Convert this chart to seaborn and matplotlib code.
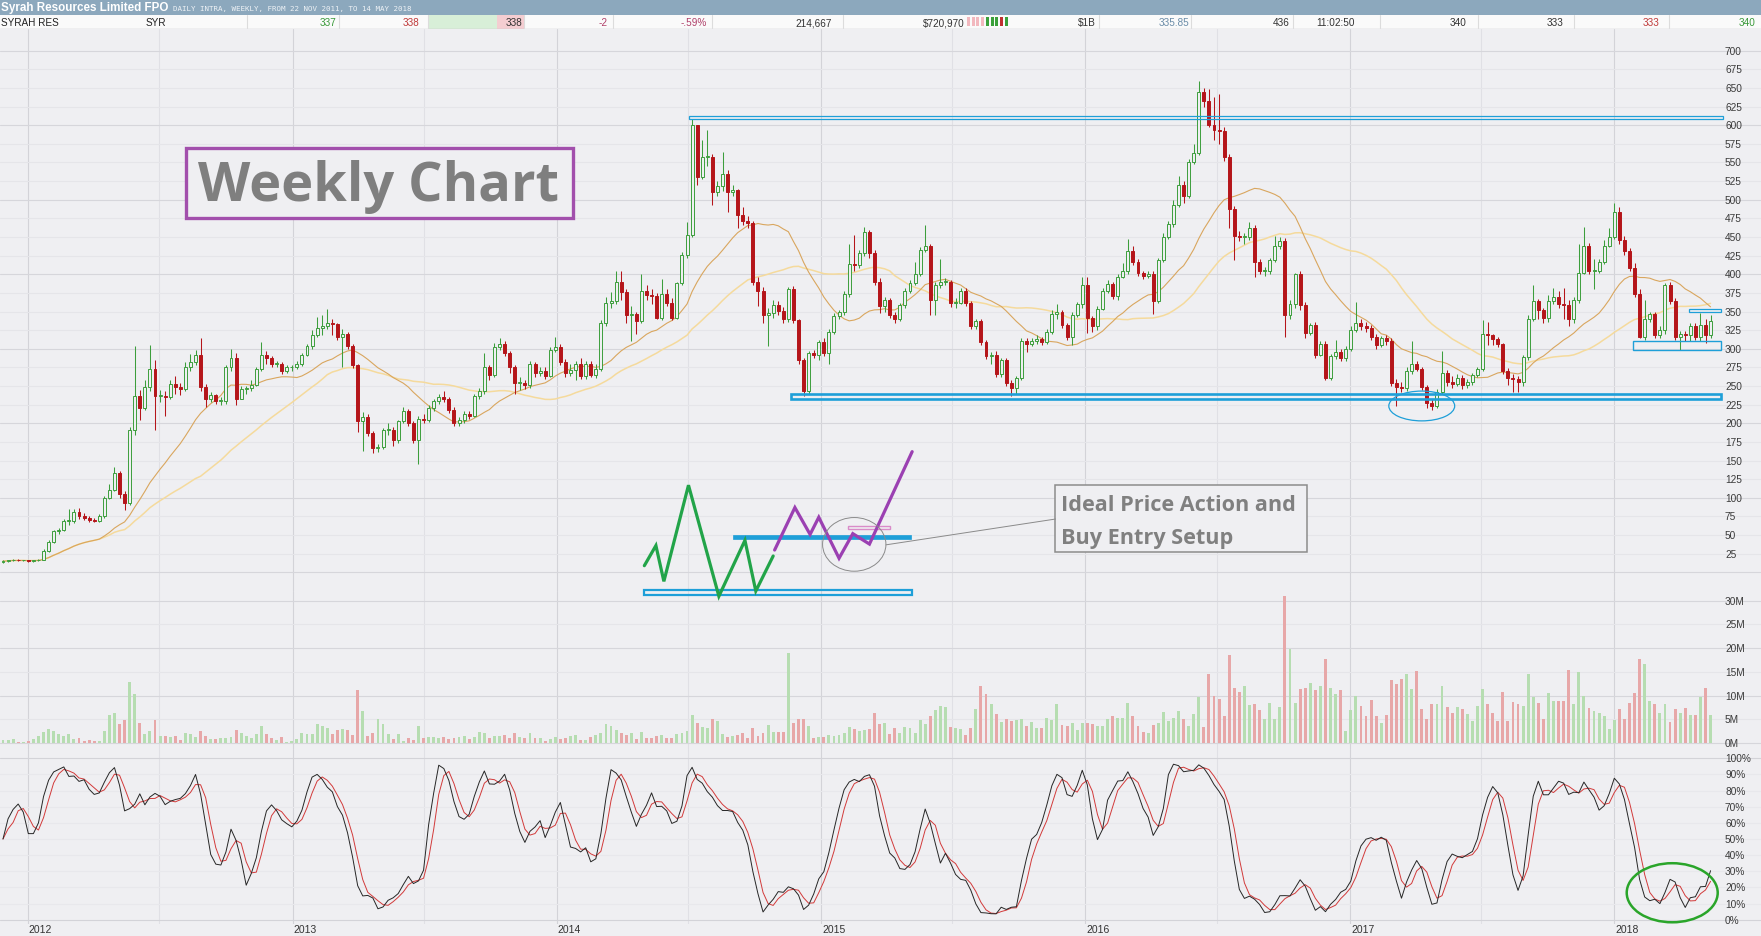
import numpy as np
import pandas as pd
import matplotlib
matplotlib.use("Agg")
import matplotlib.pyplot as plt
import matplotlib.dates as mdates
from matplotlib.patches import Rectangle, Ellipse
import seaborn as sns

# weekly bars of SYR, first bar = week of 28 Nov 2011, prices in cents
first_week = "2011-11-28"
closes = [
    15, 16, 17, 16, 16, 15, 16, 17, 29, 41,
    55, 57, 69, 69, 81, 76, 73, 70, 69, 75,
    100, 111, 134, 105, 93, 191, 237, 220, 249, 273,
    237, 237, 236, 253, 249, 246, 275, 282, 292, 249,
    232, 238, 230, 230, 275, 287, 232, 246, 247, 252,
    273, 292, 287, 280, 280, 270, 275, 275, 279, 292,
    304, 318, 328, 330, 334, 333, 316, 320, 304, 278,
    203, 209, 187, 167, 168, 191, 191, 177, 203, 217,
    200, 177, 206, 205, 220, 230, 236, 232, 218, 201,
    205, 213, 210, 237, 243, 275, 265, 303, 306, 294,
    275, 254, 254, 251, 280, 268, 270, 264, 299, 303,
    282, 268, 271, 280, 263, 280, 265, 273, 335, 362,
    364, 390, 376, 345, 347, 337, 378, 372, 371, 342,
    373, 362, 342, 388, 426, 453, 600, 531, 557, 558,
    510, 518, 534, 510, 513, 479, 472, 469, 390, 378,
    345, 348, 359, 351, 340, 380, 338, 285, 244, 294,
    292, 309, 294, 323, 344, 349, 373, 414, 412, 428,
    457, 428, 390, 357, 366, 345, 340, 359, 378, 388,
    400, 433, 438, 366, 385, 390, 390, 361, 362, 378,
    361, 330, 337, 309, 290, 292, 266, 285, 254, 247,
    261, 311, 306, 311, 313, 309, 323, 347, 349, 332,
    316, 345, 360, 385, 342, 331, 354, 378, 387, 371,
    397, 404, 431, 417, 402, 398, 400, 364, 419, 450,
    467, 493, 520, 505, 550, 563, 645, 632, 600, 593,
    592, 558, 488, 452, 450, 450, 462, 416, 405, 405,
    419, 438, 445, 345, 360, 400, 359, 321, 332, 292,
    306, 261, 290, 296, 287, 300, 325, 335, 331, 328,
    316, 305, 314, 310, 254, 249, 248, 270, 280, 273,
    249, 227, 223, 242, 268, 256, 253, 261, 251, 256,
    265, 273, 320, 318, 313, 306, 270, 261, 260, 255,
    289, 340, 364, 352, 342, 364, 370, 360, 359, 340,
    366, 402, 438, 405, 405, 416, 438, 450, 484, 446,
    431, 409, 373, 316, 340, 347, 319, 325, 385, 364,
    316, 320, 318, 330, 316, 332, 318, 337,
]
highs = [
    17, 17, 18, 18, 17, 17, 17, 18, 31, 44,
    57, 60, 72, 85, 85, 87, 80, 76, 73, 78,
    103, 118, 142, 136, 109, 195, 304, 245, 258, 305,
    285, 245, 244, 258, 264, 254, 282, 293, 299, 314,
    253, 242, 240, 236, 278, 300, 294, 250, 250, 258,
    276, 309, 297, 290, 284, 282, 278, 278, 283, 295,
    307, 325, 343, 345, 354, 340, 335, 326, 322, 306,
    280, 215, 212, 190, 172, 194, 200, 195, 205, 222,
    219, 203, 210, 213, 224, 233, 240, 243, 236, 222,
    209, 216, 216, 240, 247, 295, 278, 308, 315, 311,
    297, 278, 262, 258, 284, 282, 275, 276, 303, 316,
    306, 286, 279, 283, 287, 283, 284, 280, 338, 370,
    376, 405, 405, 380, 357, 350, 400, 385, 380, 375,
    393, 380, 368, 390, 430, 470, 608, 594, 580, 594,
    562, 525, 564, 540, 520, 515, 490, 478, 472, 396,
    383, 355, 365, 364, 356, 383, 384, 340, 288, 297,
    298, 312, 314, 327, 348, 352, 378, 440, 453, 432,
    464, 460, 432, 395, 370, 368, 350, 362, 382, 392,
    416, 436, 466, 440, 390, 421, 395, 392, 368, 382,
    382, 364, 340, 340, 312, 296, 297, 288, 288, 258,
    264, 314, 314, 314, 318, 316, 327, 352, 360, 352,
    335, 350, 363, 397, 396, 344, 358, 382, 392, 390,
    400, 415, 448, 438, 420, 405, 404, 404, 422, 455,
    471, 499, 532, 525, 555, 575, 659, 650, 649, 638,
    642, 597, 562, 492, 458, 455, 470, 466, 420, 410,
    422, 452, 450, 449, 365, 402, 405, 363, 335, 336,
    310, 310, 293, 312, 300, 304, 330, 363, 340, 336,
    332, 320, 317, 318, 314, 260, 255, 275, 311, 284,
    276, 252, 232, 246, 297, 272, 263, 266, 265, 260,
    268, 276, 338, 336, 320, 316, 308, 274, 266, 263,
    292, 345, 385, 367, 355, 372, 381, 378, 382, 366,
    369, 440, 464, 442, 420, 421, 446, 462, 496, 490,
    452, 435, 415, 380, 365, 349, 350, 330, 388, 390,
    368, 324, 324, 334, 335, 348, 340, 346,
]
lows = [
    13, 14, 15, 15, 15, 14, 14, 15, 16, 28,
    40, 52, 55, 64, 66, 72, 70, 68, 67, 67,
    73, 98, 109, 100, 84, 90, 185, 205, 218, 244,
    191, 228, 210, 232, 240, 238, 244, 270, 278, 244,
    222, 228, 226, 225, 226, 270, 225, 235, 240, 244,
    250, 270, 280, 275, 276, 266, 268, 270, 273, 277,
    290, 300, 316, 318, 326, 318, 312, 275, 300, 274,
    189, 163, 183, 160, 162, 165, 185, 170, 174, 200,
    196, 173, 146, 200, 202, 217, 226, 228, 214, 197,
    196, 201, 206, 208, 233, 240, 258, 262, 298, 290,
    268, 239, 245, 246, 248, 262, 264, 260, 262, 296,
    278, 262, 263, 258, 260, 259, 262, 261, 270, 330,
    355, 360, 365, 335, 311, 320, 335, 365, 360, 340,
    338, 357, 338, 340, 385, 422, 450, 520, 528, 545,
    493, 505, 512, 483, 505, 462, 466, 462, 385, 357,
    335, 304, 342, 345, 335, 336, 335, 280, 237, 240,
    288, 285, 290, 280, 320, 340, 346, 370, 405, 408,
    425, 422, 386, 348, 350, 342, 334, 337, 355, 375,
    385, 398, 430, 345, 345, 382, 385, 356, 355, 360,
    358, 326, 326, 305, 286, 280, 262, 262, 250, 237,
    240, 258, 296, 304, 306, 305, 306, 320, 340, 328,
    312, 305, 343, 355, 321, 323, 325, 352, 375, 367,
    365, 395, 400, 412, 398, 394, 395, 347, 362, 416,
    448, 464, 490, 495, 503, 548, 560, 625, 598, 580,
    575, 552, 462, 419, 445, 440, 446, 397, 400, 398,
    400, 416, 434, 316, 340, 355, 352, 315, 318, 287,
    290, 258, 258, 286, 283, 284, 297, 322, 325, 323,
    312, 300, 302, 305, 250, 223, 242, 244, 266, 270,
    245, 220, 218, 220, 239, 250, 248, 250, 246, 248,
    252, 262, 270, 305, 305, 303, 266, 252, 242, 242,
    250, 285, 337, 340, 335, 336, 360, 355, 340, 330,
    335, 362, 400, 400, 380, 402, 414, 436, 448, 440,
    426, 404, 369, 314, 312, 336, 315, 315, 320, 360,
    312, 299, 310, 310, 312, 310, 308, 315,
]
volume_m = [
    0.7, 0.6, 0.8, 0.3, 0.3, 0.5, 0.9, 1.5, 2.3, 2.9,
    2.6, 1.9, 1.5, 1.9, 0.8, 1.0, 0.5, 0.7, 0.5, 0.4,
    2.5, 5.9, 6.3, 4.0, 4.8, 12.9, 10.3, 4.2, 1.9, 2.6,
    4.8, 1.4, 1.4, 1.3, 1.5, 0.6, 2.1, 2.0, 1.2, 2.6,
    1.4, 0.8, 0.8, 1.0, 1.0, 1.2, 2.8, 2.2, 1.5, 1.0,
    1.9, 3.6, 1.9, 1.0, 0.6, 1.3, 0.2, 0.5, 0.8, 2.1,
    1.9, 1.9, 4.0, 3.6, 3.2, 2.0, 2.8, 2.9, 2.8, 1.7,
    11.2, 6.8, 1.5, 2.2, 5.0, 4.0, 1.8, 0.8, 1.9, 0.4,
    1.0, 0.7, 3.6, 1.0, 1.2, 1.2, 1.0, 1.3, 0.8, 1.1,
    1.3, 1.4, 0.8, 1.2, 2.4, 2.1, 1.0, 1.5, 1.5, 1.7,
    1.0, 2.1, 1.2, 1.0, 2.2, 1.0, 1.1, 0.5, 0.8, 1.3,
    0.8, 1.0, 1.4, 1.6, 0.7, 0.6, 1.2, 1.6, 2.2, 4.0,
    3.6, 2.7, 2.2, 1.6, 2.1, 0.8, 2.4, 1.0, 1.1, 1.4,
    1.7, 1.1, 1.1, 1.9, 2.1, 2.6, 5.9, 4.3, 3.3, 3.1,
    5.0, 4.7, 1.9, 1.2, 1.4, 1.7, 2.1, 1.0, 3.1, 1.5,
    2.1, 3.9, 2.3, 2.4, 2.3, 18.9, 4.2, 5.0, 5.0, 3.5,
    1.0, 1.2, 1.3, 1.7, 1.5, 1.7, 2.1, 3.3, 3.0, 2.6,
    2.8, 3.0, 6.3, 4.0,
    4.2, 1.8, 3.1, 2.2, 3.3, 3.1, 2.2, 4.9, 4.0, 5.7,
    7.0, 7.8, 7.6, 3.3, 3.2, 2.9, 1.7, 3.2, 7.1, 12.1,
    10.4, 8.2, 6.1, 4.5, 5.0, 4.7, 4.8, 5.0, 3.6, 4.5,
    3.1, 3.1, 5.2, 4.8, 8.2, 3.9, 3.6, 4.2, 2.8, 4.2,
    4.2, 4.0, 3.5, 3.5, 5.0, 5.7, 5.2, 5.2, 8.4, 5.6,
    3.6, 2.4, 2.2, 3.9, 4.3, 6.6, 4.7, 5.2, 6.8, 5.0,
    3.6, 6.1, 9.6, 3.3, 14.5, 10.0, 9.2, 5.7, 18.5, 11.7,
    10.7, 12.1, 8.0, 8.2, 7.0, 5.0, 8.5, 5.0, 7.5, 31.0,
    19.9, 8.4, 11.4, 11.5, 12.6, 11.2, 12.1, 17.8, 11.7, 10.3,
    11.2, 2.6, 7.0, 10.0, 7.8, 5.7, 9.1, 5.7, 4.3, 5.9,
    13.3, 12.4, 13.5, 14.5, 11.4, 15.1, 7.1, 5.0, 8.2, 8.2,
    12.1, 7.5, 6.4, 7.5, 7.1, 6.1, 4.7, 7.8, 11.4, 8.2,
    6.3, 4.7, 10.8, 4.7, 8.7, 8.2, 7.8, 14.5, 9.6, 8.5,
    5.0, 10.5, 8.9, 8.9, 8.9, 15.4, 8.2, 15.0, 10.0, 7.3,
    6.8, 6.3, 5.7, 2.9, 4.9, 7.1, 5.0, 8.5, 10.5, 17.7,
    16.6, 8.9, 8.2, 6.3, 8.2, 4.5, 7.1, 6.4, 7.3, 5.9,
    5.9, 9.6, 11.7, 5.9,
]

price_ticks = list(range(25, 701, 25))
volume_ticks = [0, 5, 10, 15, 20, 25, 30]
stoch_ticks = list(range(0, 101, 10))
years = ["2012", "2013", "2014", "2015", "2016", "2017", "2018"]

# hand drawn "ideal setup" sketch, in (date, price) terms
green_dates = ["2014-05-02", "2014-05-18", "2014-05-29", "2014-07-02",
               "2014-08-13", "2014-09-18", "2014-10-03", "2014-10-27"]
green_prices = [9, 36, -12, 117, -32, 43, -25, 22]
purple_dates = ["2014-10-29", "2014-11-26", "2014-12-17", "2014-12-29",
                "2015-01-26", "2015-02-14", "2015-03-09", "2015-05-07"]
purple_prices = [30, 87, 51, 74, 19, 52, 38, 162]

BG = "#EFEFF2"
GREEN = "#3C9E3C"
RED = "#B5151A"
BLUE = "#1E9FD8"
W, H = 1761, 937

sns.set_style("white", {"axes.facecolor": BG, "figure.facecolor": BG})
plt.rcParams["font.family"] = ["Liberation Sans", "DejaVu Sans"]

df = pd.DataFrame({
    "date": pd.date_range(first_week, periods=len(closes), freq="7D"),
    "close": closes, "high": highs, "low": lows, "volume": volume_m,
})
df["x"] = mdates.date2num(df["date"])
df["open"] = df["close"].shift(1).fillna(14)
df["high"] = df[["high", "open", "close"]].max(axis=1)
df["low"] = df[["low", "open", "close"]].min(axis=1)
df["ma20"] = df["close"].rolling(20, min_periods=1).mean()
df["ma40"] = df["close"].rolling(40, min_periods=1).mean()
ll = df["low"].rolling(14, min_periods=1).min()
hh = df["high"].rolling(14, min_periods=1).max()
fast_k = 100 * (df["close"] - ll) / (hh - ll)
df["k"] = fast_k.rolling(3, min_periods=1).mean()
df["d"] = df["k"].rolling(3, min_periods=1).mean()
up = (df["close"] >= df["open"]).values


def dn(s):
    return mdates.date2num(pd.Timestamp(s))


x_left = dn("2012-01-01") - 38.13
x_right = dn("2018-01-01") + 202.66

fig = plt.figure(figsize=(W / 100, H / 100), dpi=100, facecolor=BG)


def band(top, bottom):
    ax = fig.add_axes([0, 1 - bottom / H, 1, (bottom - top) / H])
    ax.set_facecolor("none")
    for s in ax.spines.values():
        s.set_visible(False)
    return ax


ax_v = band(592, 750)
ax_s = band(750, 925)
ax_p = band(30, 592)
ax_p.set_zorder(3)

# vertical grid, years and half years
grid_dates = []
for y in range(2012, 2019):
    grid_dates.append((dn(f"{y}-01-01"), "#D3D3D8"))
    if y < 2018:
        grid_dates.append((dn(f"{y}-07-01"), "#E0E0E5"))
for ax in (ax_p, ax_v, ax_s):
    for gx, gc in grid_dates:
        ax.axvline(gx, color=gc, lw=0.8, zorder=0)

# price panel
for p in range(0, 701, 25):
    ax_p.axhline(p, color="#D6D6DB" if p % 100 == 0 else "#E5E5E9", lw=0.8, zorder=0)
ax_p.vlines(df["x"], df["low"], df["high"], colors=np.where(up, GREEN, RED),
            lw=0.75, zorder=2)
body_lo = df[["open", "close"]].min(axis=1)
body_h = (df["close"] - df["open"]).abs().clip(lower=1.2)
ax_p.bar(df["x"], body_h, bottom=body_lo, width=4.1,
         color=np.where(up, BG, RED), edgecolor=np.where(up, GREEN, RED),
         linewidth=0.7, zorder=3)
sns.lineplot(x=df["x"], y=df["ma40"], ax=ax_p, color="#F5DA9C", linewidth=1.1,
             estimator=None, sort=False, zorder=1)
sns.lineplot(x=df["x"], y=df["ma20"], ax=ax_p, color="#D9A65E", linewidth=0.8,
             estimator=None, sort=False, zorder=1)
for p in price_ticks:
    ax_p.text(1725 / W, p, str(p), transform=ax_p.get_yaxis_transform(),
              ha="left", va="center", fontsize=7.3, color="#3A3A3A")

# annotations on the price panel
ax_p.add_patch(Rectangle((dn("2014-07-03"), 607.8), dn("2018-05-31") - dn("2014-07-03"), 4.8,
                         fill=False, edgecolor=BLUE, lw=0.9, zorder=5))
ax_p.add_patch(Rectangle((dn("2014-11-21"), 233.3), dn("2018-05-28") - dn("2014-11-21"), 5.4,
                         fill=False, edgecolor=BLUE, lw=1.9, zorder=5))
ax_p.add_patch(Ellipse((dn("2017-04-10"), 223.3), 91, 40, fill=False,
                       edgecolor=BLUE, lw=0.9, zorder=5))
ax_p.add_patch(Rectangle((dn("2018-01-27"), 299), dn("2018-05-29") - dn("2018-01-27"), 12,
                         fill=False, edgecolor=BLUE, lw=1.0, zorder=5))
ax_p.add_patch(Rectangle((dn("2018-04-14"), 350), dn("2018-05-29") - dn("2018-04-14"), 3,
                         fill=False, edgecolor=BLUE, lw=0.9, zorder=5))

ax_p.add_patch(Rectangle((dn("2012-08-07"), 476), dn("2014-01-23") - dn("2012-08-07"), 93,
                         facecolor=BG, edgecolor="#A24FAC", lw=2.4, zorder=5))
ax_p.text(dn("2013-04-30"), 500, "Weekly Chart", ha="center", va="baseline",
          fontsize=39, fontweight="bold", color="#7F7F7F",
          family=["Open Sans", "DejaVu Sans"], zorder=6)

ax_p.add_patch(Rectangle((dn("2014-05-01"), -29.7), dn("2015-05-07") - dn("2014-05-01"), 6.2,
                         fill=False, edgecolor=BLUE, lw=1.6, clip_on=False, zorder=5))
ax_p.add_patch(Rectangle((dn("2014-09-02"), 44.8), dn("2015-05-05") - dn("2014-09-02"), 5.8,
                         facecolor=BLUE, edgecolor=BLUE, lw=0.5, clip_on=False, zorder=5))
ax_p.add_patch(Rectangle((dn("2015-02-07"), 58.2), dn("2015-04-07") - dn("2015-02-07"), 3.4,
                         fill=False, edgecolor="#D98BC9", lw=1.0, clip_on=False, zorder=5))
ax_p.plot([dn(d) for d in green_dates], green_prices, color="#22A449", lw=2.3,
          solid_joinstyle="miter", clip_on=False, zorder=6)
ax_p.plot([dn(d) for d in purple_dates], purple_prices, color="#9B40B2", lw=2.3,
          solid_joinstyle="miter", clip_on=False, zorder=6)
ax_p.add_patch(Ellipse((dn("2015-02-16"), 37.6), 87.5, 72, fill=False,
                       edgecolor="#8A8A8A", lw=0.7, clip_on=False, zorder=6))
ax_p.plot([dn("2015-04-01"), dn("2015-11-21")], [37, 71.6], color="#8A8A8A", lw=0.7, zorder=6)
ax_p.add_patch(Rectangle((dn("2015-11-21"), 27.1), dn("2016-11-03") - dn("2015-11-21"), 89.6,
                         facecolor=BG, edgecolor="#8C8C8C", lw=1.1, zorder=5))
ax_p.text(dn("2015-11-28"), 84, "Ideal Price Action and", ha="left", va="baseline",
          fontsize=15.6, fontweight="bold", color="#808080",
          family=["Open Sans", "DejaVu Sans"], zorder=6)
ax_p.text(dn("2015-11-28"), 39, "Buy Entry Setup", ha="left", va="baseline",
          fontsize=15.6, fontweight="bold", color="#808080",
          family=["Open Sans", "DejaVu Sans"], zorder=6)
ax_p.set_ylim(-24.96, 729.1)

# volume panel
for v in range(0, 31, 5):
    ax_v.axhline(v, color="#D6D6DB" if v % 10 == 0 else "#E5E5E9", lw=0.8, zorder=0)
ax_v.bar(df["x"], df["volume"], width=4.0, color=np.where(up, "#B6DDB1", "#E7A7A8"),
         linewidth=0, zorder=2)
for v in volume_ticks:
    ax_v.text(1725 / W, v, f"{v}M", transform=ax_v.get_yaxis_transform(),
              ha="left", va="center", fontsize=7.3, color="#3A3A3A")
ax_v.set_ylim(-1.265, 32.05)

# stochastic panel
for s in stoch_ticks:
    ax_s.axhline(s, color="#D3D3D8" if s in (0, 100) else "#E8E8EC", lw=0.8, zorder=0)
sns.lineplot(x=df["x"], y=df["d"], ax=ax_s, color="#D23A3A", linewidth=0.7,
             estimator=None, sort=False, zorder=2)
sns.lineplot(x=df["x"], y=df["k"], ax=ax_s, color="#262626", linewidth=0.7,
             estimator=None, sort=False, zorder=3)
ax_s.add_patch(Ellipse((dn("2018-03-22"), 16.7), 125.7, 36.6, fill=False,
                       edgecolor="#2AA52A", lw=1.8, zorder=5))
for s in stoch_ticks:
    ax_s.text(1725 / W, s, f"{s}%", transform=ax_s.get_yaxis_transform(),
              ha="left", va="center", fontsize=7.3, color="#3A3A3A")
for y in years:
    ax_s.text(dn(f"{y}-01-01") + 1.5, -0.029, y, transform=ax_s.get_xaxis_transform(),
              ha="left", va="center", fontsize=7.5, color="#333333", clip_on=False)
ax_s.set_ylim(-2.66, 105.76)

for ax in (ax_p, ax_v, ax_s):
    ax.set_xlim(x_left, x_right)
    ax.set_xticks([])
    ax.set_yticks([])
    ax.set_xlabel("")
    ax.set_ylabel("")

# quote strip on top
hdr = fig.add_axes([0, 1 - 30 / H, 1, 30 / H])
hdr.set_xlim(0, W)
hdr.set_ylim(30, 0)
hdr.axis("off")
hdr.add_patch(Rectangle((0, 0), W, 15.5, color="#8CA8BD", lw=0))
hdr.add_patch(Rectangle((0, 15.5), W, 14.5, color="#FAFAFA", lw=0))
hdr.add_patch(Rectangle((428, 15.5), 69, 14.5, color="#D8EFD8", lw=0))
hdr.add_patch(Rectangle((497, 15.5), 27, 14.5, color="#F4CDD1", lw=0))
hdr.axhline(29.5, color="#C4C4C8", lw=1.0)
for sx in [247, 339, 428, 524, 613, 712, 843, 1099, 1191, 1293, 1380, 1478, 1574, 1669]:
    hdr.plot([sx, sx], [16, 29], color="#DCDCDC", lw=0.8)
hdr.text(1, 8, "Syrah Resources Limited FPO", ha="left", va="center", color="white",
         fontsize=8.4, fontweight="bold")
hdr.text(173, 8.5, "DAILY INTRA, WEEKLY, FROM 22 NOV 2011, TO 14 MAY 2018", ha="left",
         va="center", color="#EEF2F6", fontsize=5.4, family=["DejaVu Sans Mono"])
quote = [
    ("SYRAH RES", 1, "left", "#222222"), ("SYR", 146, "left", "#222222"),
    ("337", 336, "right", "#3A9A3A"), ("338", 419, "right", "#C03A3A"),
    ("338", 522, "right", "#333333"), ("-2", 608, "right", "#B0406A"),
    ("-.59%", 707, "right", "#B0406A"), ("214,667", 832, "right", "#333333"),
    ("$720,970", 965, "right", "#333333"), ("$1B", 1096, "right", "#333333"),
    ("335.85", 1189, "right", "#6A8CA8"), ("436", 1290, "right", "#333333"),
    ("11:02:50", 1355, "right", "#333333"), ("340", 1467, "right", "#333333"),
    ("333", 1564, "right", "#333333"), ("333", 1660, "right", "#C03A3A"),
    ("340", 1756, "right", "#3A9A3A"),
]
for txt, qx, qa, qc in quote:
    hdr.text(qx, 23, txt, ha=qa, va="center", color=qc, fontsize=7.2)
mini = ["#F2B8BE"] * 4 + ["#3AA03A", "#3AA03A", "#3AA03A", "#C03030", "#3AA03A"]
for j, mc in enumerate(mini):
    hdr.add_patch(Rectangle((967 + j * 4.7, 18), 3, 9, color=mc, lw=0))

fig.savefig("out.png", dpi=100, facecolor=BG)
